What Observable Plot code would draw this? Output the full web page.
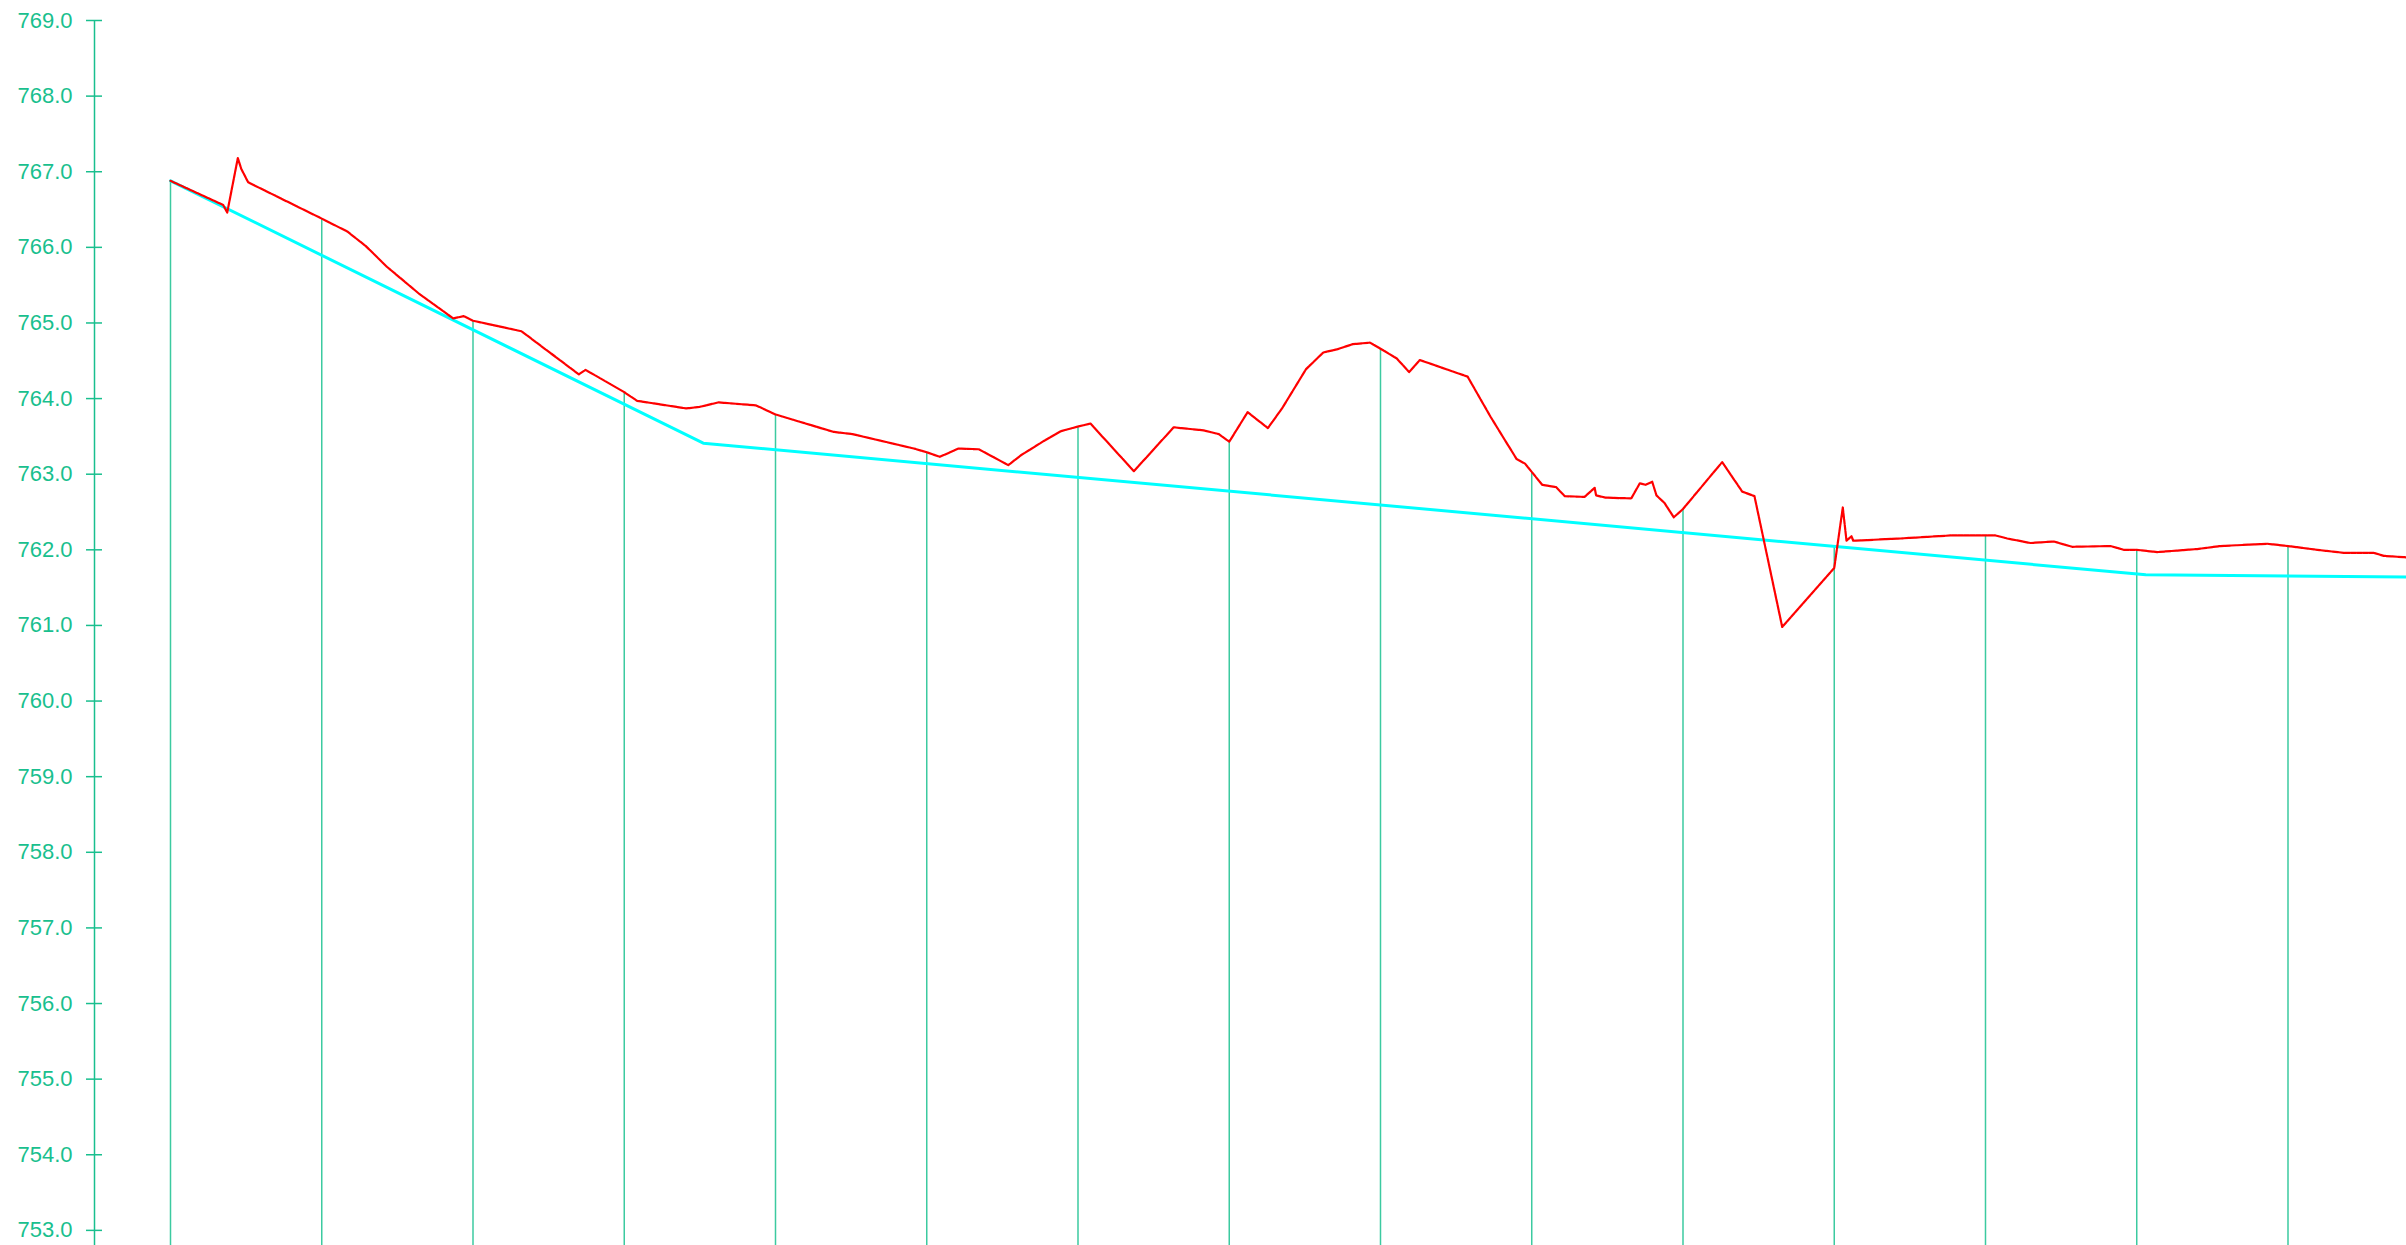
<!DOCTYPE html>
<html>
<head>
<meta charset="utf-8">
<script src="https://cdn.jsdelivr.net/npm/d3@7"></script>
<script src="https://cdn.jsdelivr.net/npm/@observablehq/plot@0.6"></script>
<style>
  html, body { margin: 0; padding: 0; background: #ffffff; }
  #chart svg { display: block; }
</style>
</head>
<body>
<div id="chart"></div>
<script>
// Chainage (m) of the vertical station lines
const stationX = [0, 20, 40, 60, 80, 100, 120, 140, 160, 180, 200, 220, 240, 260, 280];
// Elevation at the top of each station line (the higher of ground / design)
const stationTop = [766.88, 766.38, 765.03, 764.085, 763.79, 763.29, 763.63, 763.43, 764.66, 763.03, 762.54, 762.05, 762.19, 762.00, 762.05];

// Design line (cyan)
const designX = [0, 70.45, 261.2, 295.7];
const designZ = [766.88, 763.41, 761.67, 761.64];

// Ground line (red, dashed)
const groundX = [0, 6.97, 7.5, 8.9, 9.35, 10.27, 20, 23.37, 25.79, 28.65, 32.83, 37.38, 38.78, 40,
  46.41, 54.0, 54.88, 60, 61.7, 68.18, 69.95, 72.48, 77.43, 80, 87.66, 90.18, 98.29, 100, 101.73,
  104.2, 106.88, 110.78, 112.45, 115.49, 117.76, 120, 121.65, 127.39, 132.65, 136.61, 138.63, 140,
  142.43, 145.11, 146.98, 150.16, 152.44, 154.21, 156.34, 158.61, 160, 162.16, 163.78, 165.2, 171.52,
  174.55, 178.0, 179.11, 180, 181.38, 183.21, 184.37, 186.98, 188.32, 188.51, 189.75, 193.16, 194.29,
  195.04, 195.93, 196.49, 197.55, 198.78, 200, 205.18, 207.83, 209.45, 213.12, 220, 221.13, 221.62,
  222.28, 222.51, 228.76, 235.37, 241.32, 242.87, 245.95, 249.03, 251.46, 256.53, 258.29, 260,
  262.7, 267.99, 271.07, 277.25, 280, 283.86, 287.38, 291.34, 292.67, 295.7];
const groundZ = [766.88, 766.56, 766.46, 767.18, 767.04, 766.86, 766.38, 766.21, 766.02, 765.74, 765.39, 765.06, 765.09, 765.03,
  764.89, 764.32, 764.38, 764.085, 763.97, 763.87, 763.89, 763.95, 763.91, 763.79, 763.56, 763.53, 763.34, 763.29, 763.23,
  763.34, 763.33, 763.12, 763.25, 763.44, 763.57, 763.63, 763.67, 763.04, 763.62, 763.58, 763.53, 763.43,
  763.82, 763.61, 763.87, 764.39, 764.61, 764.65, 764.72, 764.74, 764.66, 764.53, 764.35, 764.51, 764.29,
  763.76, 763.2, 763.14, 763.03, 762.86, 762.83, 762.71, 762.7, 762.82, 762.72, 762.69, 762.68, 762.88,
  762.86, 762.9, 762.72, 762.62, 762.43, 762.54, 763.16, 762.77, 762.71, 760.98, 761.76, 762.56, 762.12,
  762.18, 762.12, 762.15, 762.19, 762.19, 762.15, 762.09, 762.11, 762.04, 762.05, 762.0, 762.0,
  761.97, 762.01, 762.05, 762.08, 762.05, 762.0, 761.96, 761.96, 761.92, 761.9];

// Y-axis ticks
const yTicks = [769, 768, 767, 766, 765, 764, 763, 762, 761, 760, 759, 758, 757, 756, 755, 754, 753];

const xDomain = [-10.05, 295.67];
const yDomain = [752.8, 769];

const axisColor = "#19bf8e";
const stationColor = "#3ccaa0";

const stations = stationX.map((x, i) => ({x, top: stationTop[i]}));
const design = designX.map((x, i) => ({x, z: designZ[i]}));
const ground = groundX.map((x, i) => ({x, z: groundZ[i]}));

const chart = Plot.plot({
  width: 2406,
  height: 1245,
  marginLeft: 94,
  marginRight: 0,
  marginTop: 20,
  marginBottom: 0,
  style: {background: "#ffffff", fontFamily: "'Liberation Sans', Arial, sans-serif", fontSize: "22px"},
  x: {domain: xDomain, axis: null},
  y: {domain: yDomain, axis: null},
  marks: [
    Plot.ruleX(stations, {x: "x", y1: yDomain[0], y2: "top", stroke: stationColor, strokeWidth: 1.5}),
    Plot.ruleX([xDomain[0]], {y1: yTicks[0], y2: yDomain[0], stroke: axisColor, strokeWidth: 1.5}),
    Plot.axisY(yTicks, {anchor: "left", tickSize: 16, dx: 8, tickFormat: () => "", stroke: axisColor, strokeWidth: 1.5}),
    Plot.axisY(yTicks, {anchor: "left", tickSize: 0, tickPadding: 22, tickFormat: d => d.toFixed(1), fontSize: 22, fill: axisColor}),
    Plot.line(design, {x: "x", y: "z", stroke: "#00ffff", strokeWidth: 3, clip: true}),
    Plot.line(ground, {x: "x", y: "z", stroke: "#ff0000", strokeWidth: 2.2, strokeDasharray: "5,1", clip: true})
  ]
});
document.getElementById("chart").appendChild(chart);
</script>
</body>
</html>
